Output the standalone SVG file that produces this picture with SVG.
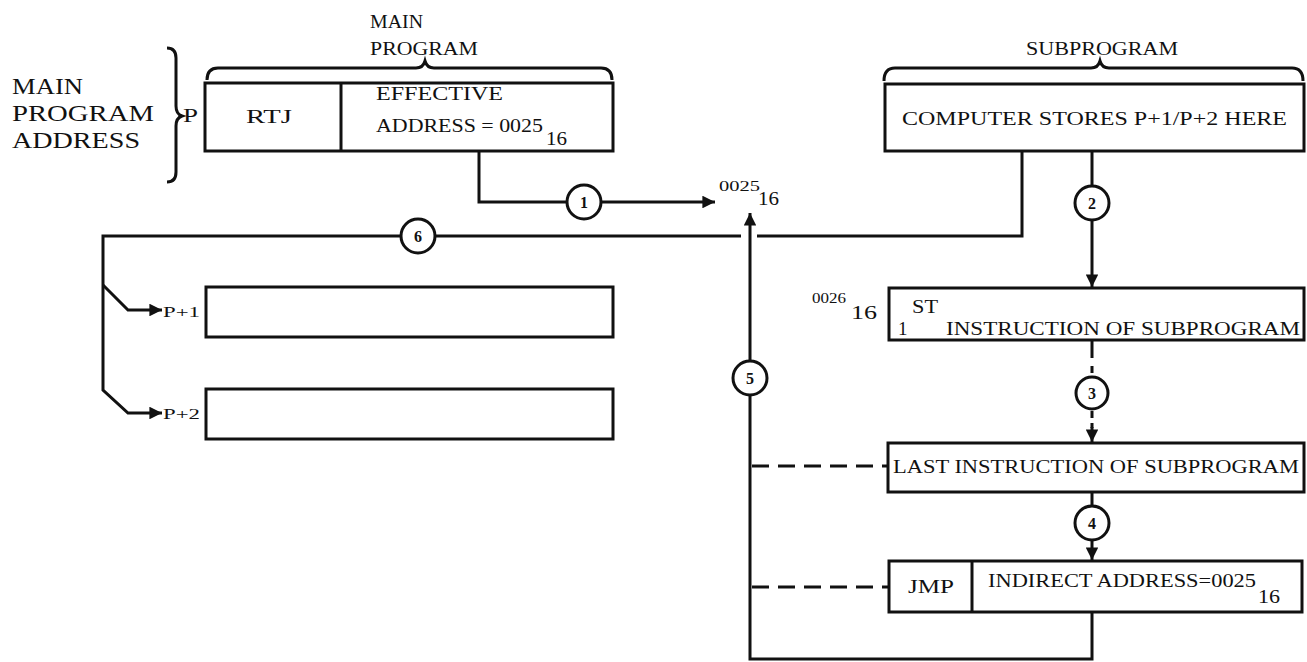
<svg xmlns="http://www.w3.org/2000/svg" width="1307" height="662" viewBox="0 0 1307 662">
<defs>
<style>
.box{fill:#fff;stroke:#111;stroke-width:3}
.ln{fill:none;stroke:#111;stroke-width:3}
.dash{fill:none;stroke:#111;stroke-width:3;stroke-dasharray:17 9}
.brace{fill:none;stroke:#111;stroke-width:3}
.t{font-family:"Liberation Serif","DejaVu Serif",serif;font-size:19px;fill:#111}
.big{font-family:"Liberation Serif","DejaVu Serif",serif;font-size:24px;fill:#111}
.sm{font-family:"Liberation Serif","DejaVu Serif",serif;font-size:15px;fill:#111}
.circ{fill:#fff;stroke:#111;stroke-width:3}
.num{font-family:"Liberation Serif","DejaVu Serif",serif;font-size:16px;font-weight:bold;fill:#111;text-anchor:middle}
</style>
<marker id="ah" viewBox="0 0 10 10" refX="10" refY="5" markerWidth="4.6" markerHeight="4.2" markerUnits="strokeWidth" orient="auto">
<path d="M0,0 L10,5 L0,10 Z" fill="#111"/>
</marker>
</defs>

<g id="labels">
<text class="big" x="12" y="94" textLength="71" lengthAdjust="spacingAndGlyphs">MAIN</text>
<text class="big" x="12" y="121" textLength="142" lengthAdjust="spacingAndGlyphs">PROGRAM</text>
<text class="big" x="12" y="148" textLength="128" lengthAdjust="spacingAndGlyphs">ADDRESS</text>
<path class="brace" d="M167,48 Q176,48 176,58 L176,106 Q176,114 182,116 Q176,118 176,126 L176,172 Q176,182 167,182"/>
<text class="t" x="183" y="122" textLength="15" lengthAdjust="spacingAndGlyphs">P</text>
<text class="t" x="370" y="28" textLength="53" lengthAdjust="spacingAndGlyphs">MAIN</text>
<text class="t" x="370" y="55" textLength="108" lengthAdjust="spacingAndGlyphs">PROGRAM</text>
<path class="brace" d="M207,80 Q207,68 218,68 L416,68 Q423,68 425,61 Q427,68 434,68 L601,68 Q612,68 612,80"/>
<text class="t" x="1026" y="55" textLength="152" lengthAdjust="spacingAndGlyphs">SUBPROGRAM</text>
<path class="brace" d="M884,81 Q884,68 895,68 L1091,68 Q1098,68 1100,61 Q1102,68 1109,68 L1292,68 Q1303,68 1303,81"/>
</g>

<g id="connectors">
<!-- 1 -->
<path class="ln" d="M479,151 L479,202 L715,202" marker-end="url(#ah)"/>
<!-- 2 -->
<path class="ln" d="M1092,151 L1092,287" marker-end="url(#ah)"/>
<!-- 6 -->
<path class="ln" d="M1022,151 L1022,236 L757,236"/>
<path class="ln" d="M741,236 L103,236 L103,390 L128,413 L162,413" marker-end="url(#ah)"/>
<path class="ln" d="M103,285 L128,310 L162,310" marker-end="url(#ah)"/>
<!-- 3 -->
<path class="ln" d="M1092,340 L1092,358 M1092,366 L1092,373 M1092,411 L1092,418 M1092,423 L1092,428"/>
<path class="ln" d="M1092,427 L1092,442" marker-end="url(#ah)"/>
<!-- 4 -->
<path class="ln" d="M1092,492 L1092,560" marker-end="url(#ah)"/>
<!-- 5 -->
<path class="ln" d="M1092,612 L1092,659 L750,659 L750,213" marker-end="url(#ah)"/>
<path class="dash" d="M752,466 L888,466"/>
<path class="dash" d="M752,587 L889,587"/>
</g>

<g id="circles">
<circle class="circ" cx="584" cy="202" r="17"/><text class="num" x="584" y="208">1</text>
<circle class="circ" cx="1092" cy="203" r="17"/><text class="num" x="1092" y="209">2</text>
<circle class="circ" cx="1092" cy="393" r="16"/><text class="num" x="1092" y="399">3</text>
<circle class="circ" cx="1092" cy="523" r="17"/><text class="num" x="1092" y="529">4</text>
<circle class="circ" cx="750" cy="378" r="17"/><text class="num" x="750" y="384">5</text>
<circle class="circ" cx="418" cy="236" r="17"/><text class="num" x="418" y="242">6</text>
</g>

<g id="addr0025">
<text class="sm" x="719" y="191" textLength="41" lengthAdjust="spacingAndGlyphs">0025</text>
<text class="t" x="758" y="205" textLength="21" lengthAdjust="spacingAndGlyphs">16</text>
</g>

<g id="main-box">
<rect class="box" x="205" y="83" width="408" height="68"/>
<line class="ln" x1="341" y1="83" x2="341" y2="151"/>
<text class="t" x="246" y="123" textLength="46" lengthAdjust="spacingAndGlyphs">RTJ</text>
<text class="t" x="376" y="100" textLength="127" lengthAdjust="spacingAndGlyphs">EFFECTIVE</text>
<text class="t" x="376" y="132" textLength="167" lengthAdjust="spacingAndGlyphs">ADDRESS = 0025</text>
<text class="t" x="546" y="145" textLength="21" lengthAdjust="spacingAndGlyphs">16</text>
</g>

<g id="sub-box">
<rect class="box" x="885" y="84" width="419" height="67"/>
<text class="t" x="902" y="125" textLength="385" lengthAdjust="spacingAndGlyphs">COMPUTER STORES P+1/P+2 HERE</text>
</g>

<g id="p1-box">
<rect class="box" x="206" y="287" width="407" height="50"/>
<text class="sm" x="163" y="317" textLength="37" lengthAdjust="spacingAndGlyphs">P+1</text>
</g>

<g id="p2-box">
<rect class="box" x="206" y="389" width="407" height="50"/>
<text class="sm" x="163" y="419" textLength="37" lengthAdjust="spacingAndGlyphs">P+2</text>
</g>

<g id="first-box">
<rect class="box" x="889" y="288" width="415" height="52"/>
<text class="sm" x="812" y="303" textLength="34" lengthAdjust="spacingAndGlyphs">0026</text>
<text class="t" x="851" y="319" textLength="26" lengthAdjust="spacingAndGlyphs">16</text>
<text class="t" x="898" y="335" font-size="20">1</text>
<text class="t" x="912" y="313" textLength="26" lengthAdjust="spacingAndGlyphs">ST</text>
<text class="t" x="946" y="335" textLength="354" lengthAdjust="spacingAndGlyphs">INSTRUCTION OF SUBPROGRAM</text>
</g>

<g id="last-box">
<rect class="box" x="888" y="443" width="416" height="49"/>
<text class="t" x="893" y="473" textLength="406" lengthAdjust="spacingAndGlyphs">LAST INSTRUCTION OF SUBPROGRAM</text>
</g>

<g id="jmp-box">
<rect class="box" x="889" y="561" width="413" height="51"/>
<line class="ln" x1="972" y1="561" x2="972" y2="612"/>
<text class="t" x="908" y="593" textLength="46" lengthAdjust="spacingAndGlyphs">JMP</text>
<text class="t" x="988" y="587" textLength="268" lengthAdjust="spacingAndGlyphs">INDIRECT ADDRESS=0025</text>
<text class="t" x="1258" y="603" textLength="22" lengthAdjust="spacingAndGlyphs">16</text>
</g>
</svg>
